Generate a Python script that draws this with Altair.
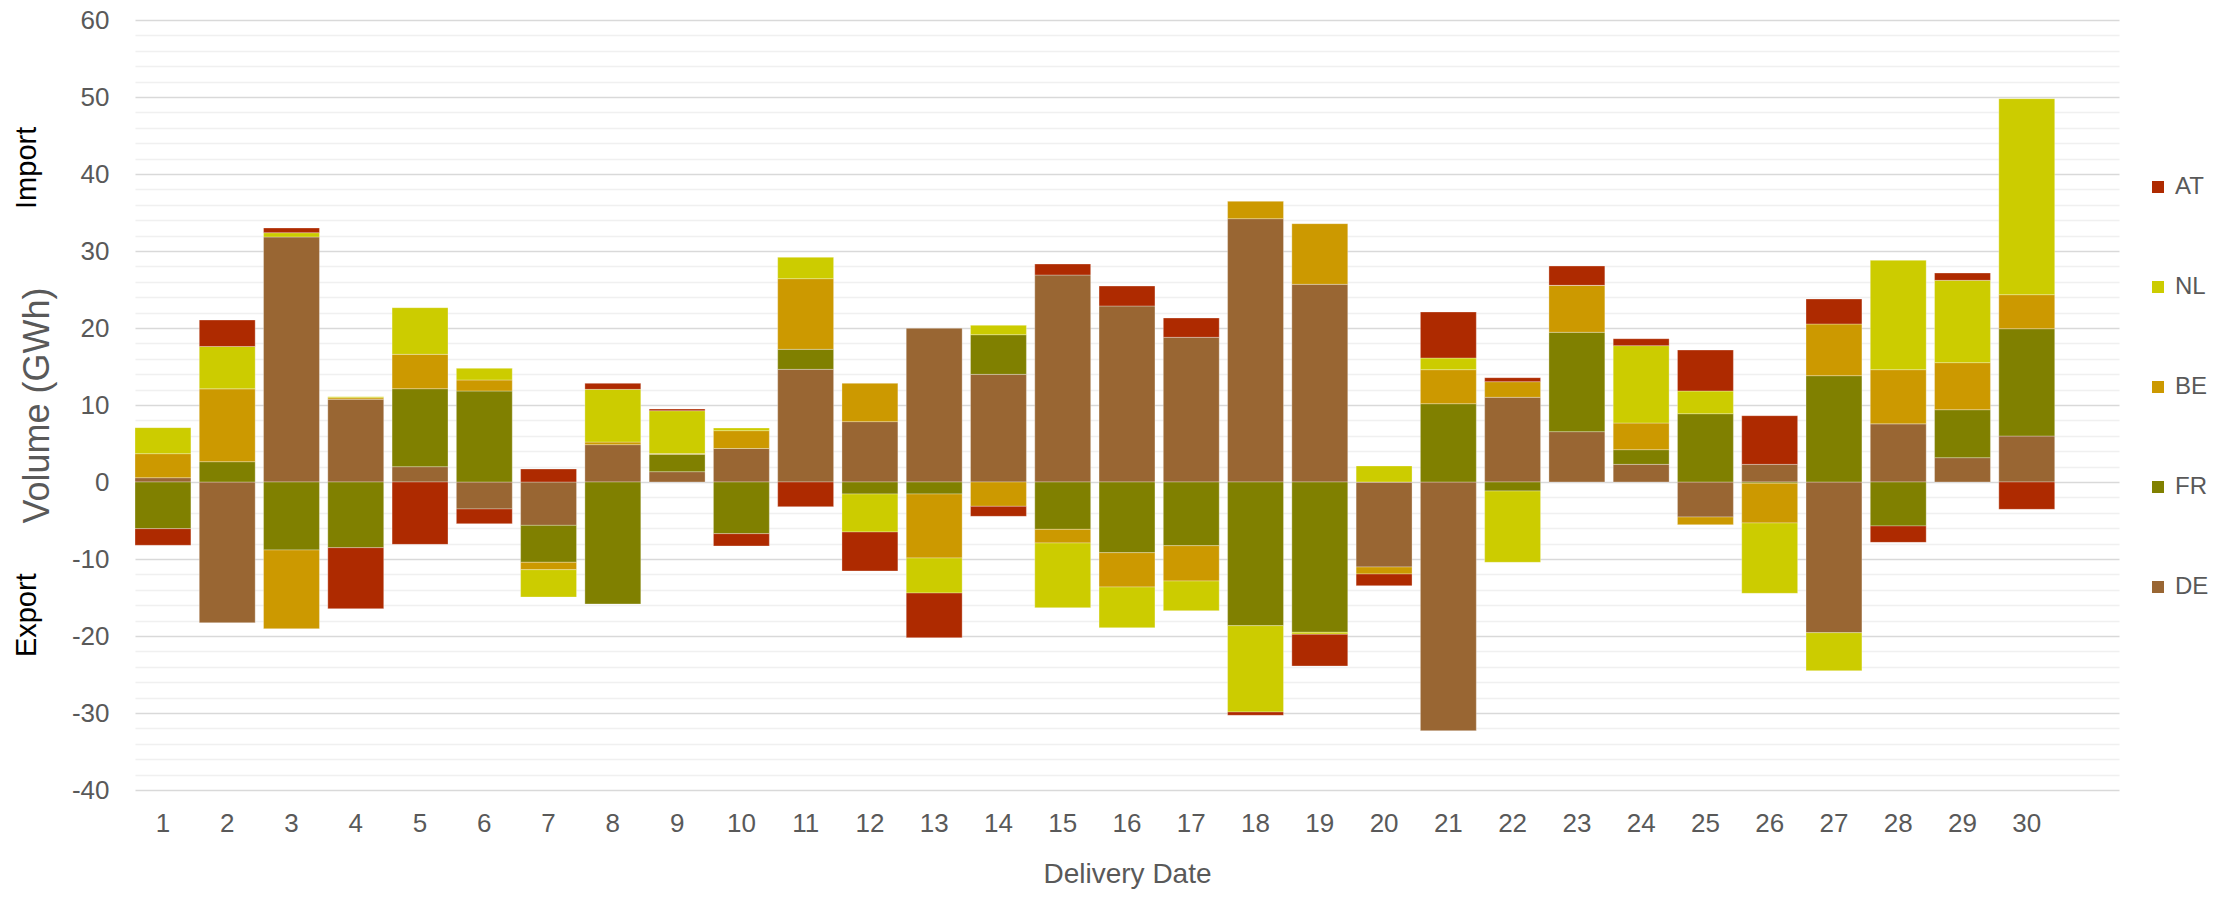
import altair as alt
import pandas as pd

days = list(range(1, 31))
countries = ["DE", "FR", "BE", "NL", "AT"]
legend_order = ["AT", "NL", "BE", "FR", "DE"]
colors = ["#AE2A00", "#CCCC00", "#CC9900", "#808000", "#996633"]

DE = [0.56, -18.27, 31.82, 10.74, 1.99, -3.5, -5.63, 4.85, 1.34, 4.35,
      14.63, 7.84, 19.96, 13.98, 26.88, 22.86, 18.79, 34.2, 25.67, -11.04,
      -32.29, 11.0, 6.54, 2.29, -4.55, 2.29, -19.57, 7.55, 3.16, 5.97]
FR = [-6.06, 2.64, -8.83, -8.53, 10.13, 11.82, -4.8, -15.84, 2.25, -6.71,
      2.6, -1.56, -1.56, 5.15, -6.15, -9.18, -8.27, -18.66, -19.52, 0.0,
      10.17, -1.17, 12.9, 1.91, 8.87, -0.15, 13.81, -5.71, 6.23, 13.94]
BE = [3.12, 9.46, -10.22, 0.2, 4.46, 1.43, -0.96, 0.34, 0.1, 2.32,
      9.18, 4.97, -8.31, -3.16, -1.77, -4.46, -4.59, 2.25, 7.88, -0.91,
      4.42, 2.03, 6.1, 3.46, -0.99, -5.17, 6.71, 7.04, 6.11, 4.42]
NL = [3.38, 5.5, 0.56, 0.14, 6.06, 1.51, -3.55, 6.84, 5.57, 0.34,
      2.77, -4.93, -4.55, 1.22, -8.4, -5.28, -3.85, -11.21, -0.26, 2.08,
      1.51, -9.26, 0.0, 10.05, 2.95, -9.14, -4.93, 14.2, 10.69, 25.45]
AT = [-2.16, 3.44, 0.61, -7.92, -8.1, -1.91, 1.69, 0.78, 0.22, -1.6,
      -3.2, -5.07, -5.8, -1.3, 1.43, 2.59, 2.51, -0.43, -4.12, -1.51,
      5.98, 0.52, 2.51, 0.9, 5.32, 6.32, 3.25, -2.13, 0.95, -3.55]

series = {"DE": DE, "FR": FR, "BE": BE, "NL": NL, "AT": AT}
rows = []
for rank, c in enumerate(countries):
    for d, v in zip(days, series[c]):
        rows.append({"day": d, "country": c, "value": v, "rank": rank})
df = pd.DataFrame(rows)

side_labels = ["Import", "Export"]
side_label_pos = [40.8, -17.3]
side_df = pd.DataFrame({"text": side_labels, "pos": side_label_pos})

FONT = "Liberation Sans"
GREY = "#595959"

x_domain = list(range(1, 32))
y_ticks = list(range(-40, 62, 2))

bars = alt.Chart(df).mark_bar(stroke="white", strokeWidth=0.6, strokeOpacity=0.5).encode(
    x=alt.X("day:O",
            scale=alt.Scale(domain=x_domain, paddingInner=0.13, paddingOuter=0),
            axis=alt.Axis(title="Delivery Date", labelAngle=0, ticks=False, domain=False,
                          labelFontSize=26, labelColor=GREY, labelPadding=20,
                          labelExpr="datum.value == 31 ? '' : datum.label",
                          titleFontSize=28, titleColor=GREY, titleFontWeight="normal",
                          titlePadding=24, labelFont=FONT, titleFont=FONT)),
    y=alt.Y("value:Q",
            stack="zero",
            scale=alt.Scale(domain=[-40, 60], nice=False, zero=False),
            axis=alt.Axis(title="Volume (GWh)", values=y_ticks, tickCount=200,
                          ticks=False, domain=False, labelOverlap=False,
                          labelExpr="datum.value % 10 === 0 ? '' + datum.value : ''",
                          labelFontSize=26, labelColor=GREY, labelPadding=26,
                          gridColor=alt.condition("datum.value % 10 === 0",
                                                  alt.value("#d9d9d9"), alt.value("#f0f0f0")),
                          gridWidth=1.5,
                          titleFontSize=36, titleColor=GREY, titleFontWeight="normal",
                          titlePadding=15, labelFont=FONT, titleFont=FONT)),
    color=alt.Color("country:N",
                    scale=alt.Scale(domain=legend_order, range=colors),
                    legend=alt.Legend(title=None, orient="none", legendX=2011, legendY=155,
                                      symbolType="square", symbolSize=144, symbolStrokeWidth=0,
                                      labelFontSize=24, labelColor=GREY, labelFont=FONT,
                                      rowPadding=76, labelOffset=5, padding=0)),
    order=alt.Order("rank:Q", sort="ascending"),
)

side = alt.Chart(side_df).mark_text(angle=270, fontSize=29, color="black", font=FONT,
                                    align="center", baseline="middle").encode(
    x=alt.value(-108),
    y=alt.Y("pos:Q"),
    text="text:N",
)

chart = alt.layer(bars, side).properties(
    width=1984, height=770,
    padding={"left": 127, "top": 12, "right": 92, "bottom": 99},
    autosize=alt.AutoSizeParams(type="none"),
    background="white",
).configure_view(stroke=None)

chart.save("out.html", embed_options={"renderer": "svg", "actions": False})
